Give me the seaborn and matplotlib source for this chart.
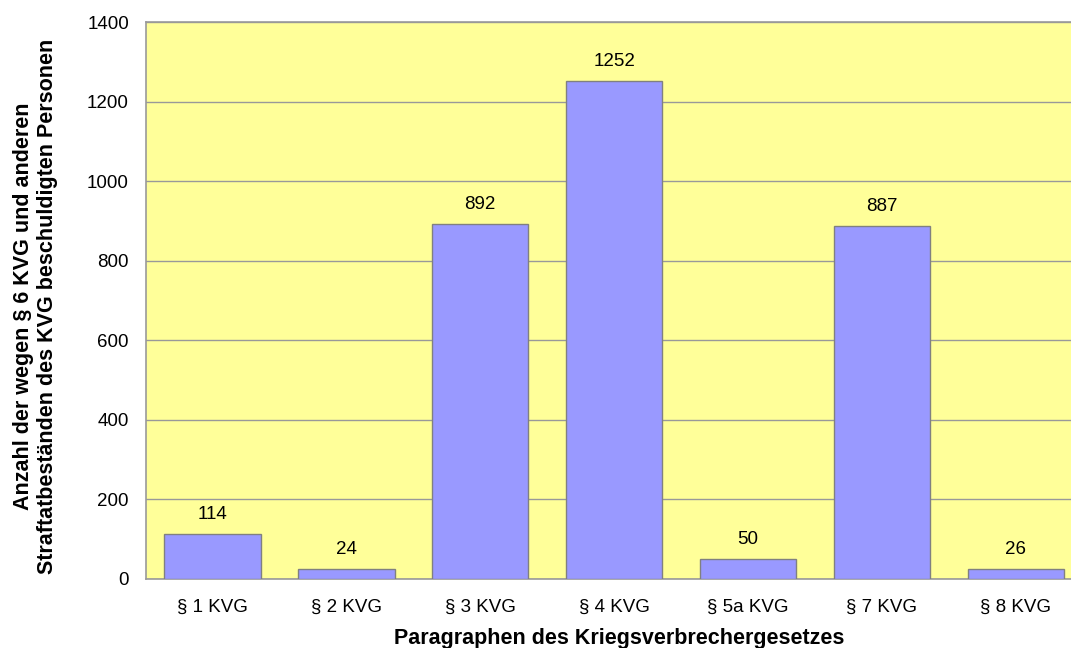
import numpy as np
import pandas as pd
import matplotlib
matplotlib.use("Agg")
import matplotlib.pyplot as plt
import seaborn as sns

categories = ['§ 1 KVG', '§ 2 KVG', '§ 3 KVG', '§ 4 KVG', '§ 5a KVG', '§ 7 KVG', '§ 8 KVG']
counts = [114, 24, 892, 1252, 50, 887, 26]

sns.set_style('white')
plt.rcParams['font.family'] = ['Liberation Sans', 'DejaVu Sans']
plt.rcParams['text.color'] = 'black'
plt.rcParams['xtick.color'] = 'black'
plt.rcParams['ytick.color'] = 'black'
plt.rcParams['axes.labelcolor'] = 'black'

df = pd.DataFrame({'paragraph': categories, 'count': counts})

fig = plt.figure(figsize=(10.71, 6.48), dpi=100)
# plot area runs a little past the right edge of the image, like the original
ax = fig.add_axes([0.1359, 0.1065, 0.875, 0.8595])
ax.set_facecolor('#FFFF99')

sns.barplot(data=df, x='paragraph', y='count', color='#9999FF', saturation=1,
            width=0.72, edgecolor='#808080', linewidth=1, ax=ax, zorder=3)

for container in ax.containers:
    ax.bar_label(container, fmt='%d', padding=8, fontsize=13.5, color='black')

ax.set_xlim(-0.5, 6.5)
ax.set_ylim(0, 1400)
ax.set_yticks(range(0, 1401, 200))
ax.yaxis.grid(True, color='#999999', linewidth=1, zorder=0)
ax.set_axisbelow(True)
ax.tick_params(axis='both', length=0, labelsize=13.5)
ax.tick_params(axis='x', pad=14)
ax.tick_params(axis='y', pad=12)
for side in ['left', 'top', 'right', 'bottom']:
    ax.spines[side].set_color('#999999')
    ax.spines[side].set_linewidth(1.2)

ax.set_xlabel('Paragraphen des Kriegsverbrechergesetzes', fontsize=15.5, fontweight='bold')
ax.set_ylabel('Anzahl der wegen § 6 KVG und anderen\nStraftatbeständen des KVG beschuldigten Personen',
              fontsize=15.5, fontweight='bold')
ax.xaxis.set_label_coords(0.505, -0.088)
ax.yaxis.set_label_coords(-0.093, 0.49)

fig.savefig('out.png', dpi=100)
